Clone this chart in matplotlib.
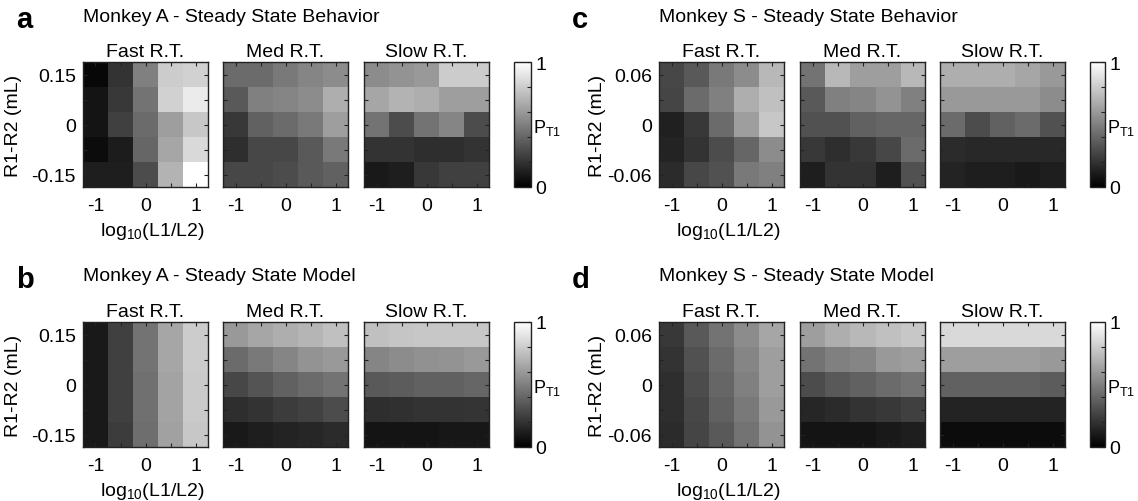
import numpy as np
import matplotlib
matplotlib.use('Agg')
import matplotlib.pyplot as plt

plt.rcParams['font.family'] = ['Liberation Sans', 'DejaVu Sans']
plt.rcParams['mathtext.fontset'] = 'custom'
plt.rcParams['mathtext.rm'] = 'Liberation Sans'

# axes values
x_vals = [-1, -0.5, 0, 0.5, 1]
x_labels = ['-1', '', '0', '', '1']
y_vals_A = [0.15, 0.075, 0, -0.075, -0.15]
y_labels_A = ['0.15', '', '0', '', '-0.15']
y_vals_S = [0.06, 0.03, 0, -0.03, -0.06]
y_labels_S = ['0.06', '', '0', '', '-0.06']
rt_names = ['Fast R.T.', 'Med R.T.', 'Slow R.T.']

# P(T1), rows from top (largest R1-R2) to bottom, columns log10(L1/L2) = -1 .. 1
# Monkey A - behavior
a_fast = [[0.03, 0.20, 0.50, 0.80, 0.82],
          [0.08, 0.22, 0.45, 0.82, 0.92],
          [0.08, 0.25, 0.42, 0.62, 0.78],
          [0.05, 0.11, 0.40, 0.65, 0.85],
          [0.12, 0.12, 0.30, 0.70, 1.00]]
a_med = [[0.42, 0.42, 0.48, 0.52, 0.55],
         [0.35, 0.50, 0.52, 0.55, 0.68],
         [0.22, 0.38, 0.42, 0.48, 0.62],
         [0.18, 0.28, 0.28, 0.35, 0.48],
         [0.28, 0.28, 0.30, 0.35, 0.38]]
a_slow = [[0.55, 0.58, 0.60, 0.80, 0.80],
          [0.65, 0.70, 0.68, 0.62, 0.62],
          [0.45, 0.30, 0.45, 0.52, 0.30],
          [0.20, 0.20, 0.18, 0.18, 0.20],
          [0.10, 0.12, 0.22, 0.25, 0.25]]

# Monkey A - model
b_fast = [[0.10, 0.25, 0.45, 0.65, 0.80],
          [0.10, 0.25, 0.45, 0.65, 0.80],
          [0.10, 0.25, 0.44, 0.64, 0.79],
          [0.10, 0.25, 0.44, 0.64, 0.79],
          [0.10, 0.24, 0.43, 0.63, 0.78]]
b_med = [[0.60, 0.65, 0.68, 0.71, 0.75],
         [0.42, 0.48, 0.52, 0.58, 0.60],
         [0.28, 0.33, 0.38, 0.42, 0.45],
         [0.18, 0.20, 0.24, 0.26, 0.30],
         [0.10, 0.12, 0.14, 0.15, 0.17]]
b_slow = [[0.75, 0.77, 0.78, 0.78, 0.78],
          [0.52, 0.55, 0.57, 0.58, 0.60],
          [0.35, 0.36, 0.38, 0.38, 0.40],
          [0.18, 0.19, 0.20, 0.20, 0.21],
          [0.08, 0.08, 0.08, 0.09, 0.09]]

# Monkey S - behavior
c_fast = [[0.28, 0.35, 0.48, 0.55, 0.72],
          [0.27, 0.42, 0.50, 0.68, 0.75],
          [0.13, 0.22, 0.42, 0.62, 0.78],
          [0.14, 0.20, 0.30, 0.40, 0.55],
          [0.17, 0.28, 0.32, 0.48, 0.50]]
c_med = [[0.45, 0.72, 0.62, 0.62, 0.72],
         [0.35, 0.50, 0.52, 0.58, 0.50],
         [0.32, 0.32, 0.38, 0.40, 0.40],
         [0.22, 0.18, 0.22, 0.28, 0.42],
         [0.12, 0.20, 0.20, 0.12, 0.32]]
c_slow = [[0.68, 0.68, 0.68, 0.65, 0.60],
          [0.60, 0.60, 0.60, 0.60, 0.55],
          [0.42, 0.30, 0.38, 0.42, 0.32],
          [0.17, 0.16, 0.16, 0.16, 0.16],
          [0.14, 0.12, 0.12, 0.10, 0.12]]

# Monkey S - model
d_fast = [[0.22, 0.35, 0.45, 0.55, 0.65],
          [0.20, 0.32, 0.42, 0.52, 0.62],
          [0.18, 0.30, 0.40, 0.50, 0.62],
          [0.18, 0.28, 0.38, 0.48, 0.60],
          [0.17, 0.27, 0.35, 0.45, 0.58]]
d_med = [[0.62, 0.68, 0.72, 0.75, 0.78],
         [0.45, 0.50, 0.52, 0.60, 0.62],
         [0.30, 0.35, 0.38, 0.42, 0.45],
         [0.15, 0.17, 0.20, 0.22, 0.25],
         [0.08, 0.08, 0.08, 0.10, 0.12]]
d_slow = [[0.85, 0.85, 0.85, 0.85, 0.85],
          [0.62, 0.62, 0.62, 0.62, 0.60],
          [0.38, 0.38, 0.38, 0.38, 0.36],
          [0.14, 0.14, 0.14, 0.14, 0.14],
          [0.05, 0.05, 0.05, 0.05, 0.05]]

W, H = 1138, 502
fig = plt.figure(figsize=(W / 100, H / 100), dpi=100)

FS = 14
edge = '#222222'


def px_ax(x0, y0, w, h):
    # pixel box (top-left origin) -> figure axes
    return fig.add_axes([x0 / W, 1 - (y0 + h) / H, w / W, h / H])


def heat(ax, data, yv, ylab, first):
    dx = x_vals[1] - x_vals[0]
    dy = yv[0] - yv[1]
    im = ax.imshow(np.array(data), cmap='gray', vmin=0, vmax=1,
                   origin='upper', aspect='auto', interpolation='nearest',
                   extent=[x_vals[0] - dx / 2, x_vals[-1] + dx / 2,
                           yv[-1] - dy / 2, yv[0] + dy / 2])
    ax.set_xticks(x_vals)
    ax.set_xticklabels(x_labels)
    ax.set_yticks(yv)
    if first:
        ax.set_yticklabels(ylab)
    else:
        ax.set_yticklabels([])
    ax.tick_params(direction='in', top=True, right=True, length=3,
                   width=0.8, color=edge, labelsize=FS)
    ax.tick_params(axis='x', pad=7)
    ax.tick_params(axis='y', pad=5)
    for s in ax.spines.values():
        s.set_color(edge)
        s.set_linewidth(1.0)
    return im


panels = [
    ('a', 'Monkey A - Steady State Behavior', [a_fast, a_med, a_slow], y_vals_A, y_labels_A, 0, 63),
    ('b', 'Monkey A - Steady State Model', [b_fast, b_med, b_slow], y_vals_A, y_labels_A, 0, 323),
    ('c', 'Monkey S - Steady State Behavior', [c_fast, c_med, c_slow], y_vals_S, y_labels_S, 1, 63),
    ('d', 'Monkey S - Steady State Model', [d_fast, d_med, d_slow], y_vals_S, y_labels_S, 1, 323),
]

group_x = [[83, 223, 364], [659, 800, 940]]
cbar_x = [514, 1090]
cbar_w = [17, 15]
ylab_x = [14, 597]
letter_x = [16, 572]
hw, hh = 125, 125

for letter, title, mats, yv, ylab, g, top in panels:
    im = None
    for k, m in enumerate(mats):
        ax = px_ax(group_x[g][k], top, hw, hh)
        im = heat(ax, m, yv, ylab, k == 0)
        ax.set_title(rt_names[k], fontsize=FS, pad=4)
    # colorbar
    cax = px_ax(cbar_x[g], top, cbar_w[g], hh)
    cb = fig.colorbar(im, cax=cax, ticks=[0, 0.2, 0.4, 0.6, 0.8, 1])
    cb.set_ticklabels(['0', '', '', '', '', '1'])
    cax.tick_params(direction='in', length=3, width=0.8, color=edge,
                    labelsize=FS, pad=3)
    cb.outline.set_edgecolor(edge)
    cb.outline.set_linewidth(1.0)
    fig.text((cbar_x[g] + cbar_w[g] + 2) / W, 1 - (top + hh / 2 + 3) / H,
             r'P$_{\mathrm{T1}}$', fontsize=FS - 1, ha='left', va='center')
    # texts
    fig.text(letter_x[g] / W, 1 - (top - 43) / H, letter, fontsize=21,
             fontweight='bold', ha='left', va='center')
    fig.text(group_x[g][0] / W, 1 - (top - 46) / H, title, fontsize=FS,
             ha='left', va='center')
    fig.text(ylab_x[g] / W, 1 - (top + hh / 2) / H, 'R1-R2 (mL)',
             fontsize=FS, rotation=90, ha='center', va='center')
    fig.text((group_x[g][0] + 69) / W, 1 - (top + 169) / H,
             r'log$_{\mathrm{10}}$(L1/L2)', fontsize=FS, ha='center', va='center')

fig.savefig('out.png', dpi=100)
